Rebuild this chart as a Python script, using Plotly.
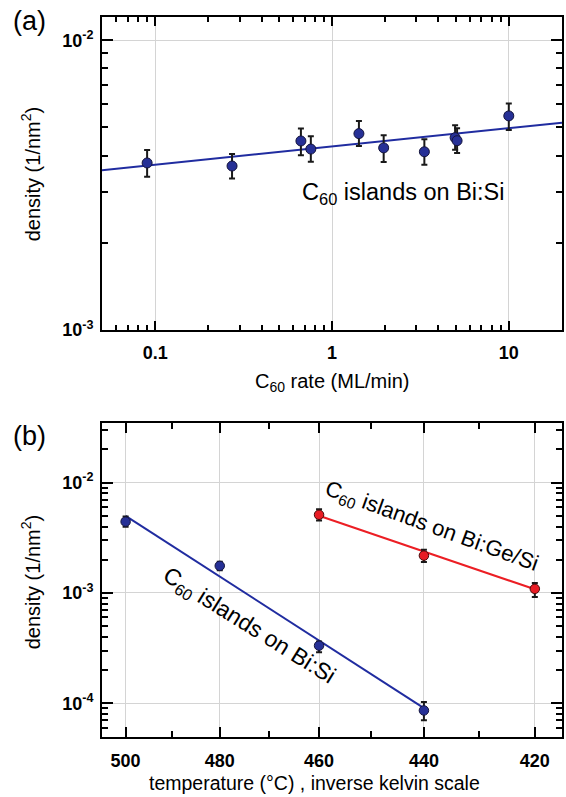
import plotly.graph_objects as go

# ---------------- data ----------------
# panel (a): density vs C60 rate
rate = [0.09, 0.272, 0.667, 0.759, 1.42, 1.96, 3.33, 4.97, 5.1, 10.0]
dens_a = [0.00377, 0.00368, 0.00449, 0.00421, 0.00476, 0.00425, 0.00412, 0.00461, 0.00450, 0.00548]
err_a_up = [0.00041, 0.00037, 0.00047, 0.00045, 0.00050, 0.00045, 0.00043, 0.00048, 0.00047, 0.00057]
err_a_dn = [0.00039, 0.00035, 0.00048, 0.00040, 0.00045, 0.00045, 0.00040, 0.00042, 0.00042, 0.00058]
fit_a_x = [0.05, 20.0]
fit_a_y = [0.00356, 0.00519]

# panel (b): density vs temperature (inverse kelvin scale)
temp_bisi = [500, 480, 460, 440]
dens_bisi = [0.00443, 0.00176, 0.000333, 0.0000862]
err_bisi_up = [0.00050, 0.00016, 0.000031, 0.0000164]
err_bisi_dn = [0.00044, 0.00015, 0.000043, 0.0000159]
fit_bisi_T = [500, 440]
fit_bisi_y = [0.0050, 0.0000905]

temp_bige = [460, 440, 420]
dens_bige = [0.00511, 0.00218, 0.00109]
err_bige_up = [0.00063, 0.00028, 0.00014]
err_bige_dn = [0.00057, 0.00027, 0.00017]
fit_bige_T = [460, 420]
fit_bige_y = [0.0050, 0.00108]

temp_major = [500, 480, 460, 440, 420]
temp_minor = [490, 470, 450, 430]
rate_ticks = [0.1, 1, 10]
rate_ticktext = ["0.1", "1", "10"]


def inv_k(t):
    return 1000.0 / (t + 273.15)


# ---------------- style ----------------
FONT = "Arial, Liberation Sans, Helvetica, sans-serif"
BLUE_M = "rgb(38,48,150)"
BLUE_L = "rgb(32,44,160)"
RED_M = "rgb(232,28,36)"
RED_L = "rgb(236,30,36)"

fig = go.Figure()


def err(up, dn):
    return dict(type="data", symmetric=False, array=up, arrayminus=dn,
                color="rgb(25,25,25)", thickness=2, width=3)


# panel (a)
fig.add_trace(go.Scatter(x=fit_a_x, y=fit_a_y, mode="lines",
                         line=dict(color=BLUE_L, width=2), xaxis="x", yaxis="y",
                         showlegend=False, hoverinfo="skip"))
fig.add_trace(go.Scatter(x=rate, y=dens_a, mode="markers",
                         marker=dict(size=10, color=BLUE_M, line=dict(color="rgb(20,20,60)", width=1)),
                         error_y=err(err_a_up, err_a_dn), xaxis="x", yaxis="y", showlegend=False))

# panel (b)
fig.add_trace(go.Scatter(x=[inv_k(t) for t in fit_bisi_T], y=fit_bisi_y, mode="lines",
                         line=dict(color=BLUE_L, width=2), xaxis="x2", yaxis="y2",
                         showlegend=False, hoverinfo="skip"))
fig.add_trace(go.Scatter(x=[inv_k(t) for t in fit_bige_T], y=fit_bige_y, mode="lines",
                         line=dict(color=RED_L, width=2), xaxis="x2", yaxis="y2",
                         showlegend=False, hoverinfo="skip"))
fig.add_trace(go.Scatter(x=[inv_k(t) for t in temp_bisi], y=dens_bisi, mode="markers",
                         marker=dict(size=9.5, color=BLUE_M, line=dict(color="rgb(20,20,60)", width=1)),
                         error_y=err(err_bisi_up, err_bisi_dn), xaxis="x2", yaxis="y2", showlegend=False))
fig.add_trace(go.Scatter(x=[inv_k(t) for t in temp_bige], y=dens_bige, mode="markers",
                         marker=dict(size=9.5, color=RED_M, line=dict(color="rgb(70,10,10)", width=1)),
                         error_y=err(err_bige_up, err_bige_dn), xaxis="x2", yaxis="y2", showlegend=False))

# geometry (pixels)
W, H = 566, 797
L, R, T, B = 102, 2, 17, 60
PW, PH = W - L - R, H - T - B
a_top, a_bot = 17, 330
b_top, b_bot = 423, 737


def py(p):
    return (H - B - p) / PH


def px(p):
    return (p - L) / PW


TICKFONT = dict(family=FONT, size=18, color="black")
GRID = "rgb(212,212,212)"

common = dict(showline=True, linecolor="black", linewidth=2, mirror="allticks",
              ticks="inside", tickcolor="black", tickwidth=2, showgrid=True,
              gridcolor=GRID, gridwidth=1, zeroline=False, tickfont=TICKFONT)

log_minor = lambda decs: [m * 10.0 ** d for d in decs for m in range(2, 10)]
rate_minor = [m * 10.0 ** d for d in (-2, -1, 0, 1) for m in range(2, 10)]

fig.update_layout(
    width=W, height=H,
    margin=dict(l=L, r=R, t=T, b=B),
    paper_bgcolor="white", plot_bgcolor="white",
    font=dict(family=FONT, color="black"),
    xaxis=dict(type="log", range=[-1.301, 1.301], domain=[0, 1], anchor="y",
               tickmode="array", tickvals=rate_ticks,
               ticktext=["<b>%s</b>" % t for t in rate_ticktext],
               ticklen=9, ticklabelstandoff=5,
               minor=dict(tickmode="array", tickvals=rate_minor, ticks="inside",
                          ticklen=5, tickwidth=1.5, tickcolor="black", showgrid=False),
               **common),
    yaxis=dict(type="log", range=[-3, -1.92], domain=[py(a_bot), py(a_top)], anchor="x",
               tickmode="array", tickvals=[1e-3, 1e-2],
               ticktext=["<b>10<sup>-3</sup></b>", "<b>10<sup>-2</sup></b>"],
               ticklen=11, ticklabelstandoff=3,
               minor=dict(tickmode="array", tickvals=log_minor([-3, -2]), ticks="inside",
                          ticklen=6, tickwidth=1.5, tickcolor="black", showgrid=False),
               **common),
    xaxis2=dict(type="linear", range=[1.2848, 1.4526], domain=[0, 1], anchor="y2",
                tickmode="array", tickvals=[inv_k(t) for t in temp_major],
                ticktext=["<b>%d</b>" % t for t in temp_major],
                ticklen=10, ticklabelstandoff=6,
                minor=dict(tickmode="array", tickvals=[inv_k(t) for t in temp_minor], ticks="inside",
                           ticklen=6, tickwidth=1.5, tickcolor="black", showgrid=False),
                **common),
    yaxis2=dict(type="log", range=[-4.305, -1.46], domain=[0, py(b_top)], anchor="x2",
                tickmode="array", tickvals=[1e-4, 1e-3, 1e-2],
                ticktext=["<b>10<sup>-4</sup></b>", "<b>10<sup>-3</sup></b>", "<b>10<sup>-2</sup></b>"],
                ticklen=11, ticklabelstandoff=3,
                minor=dict(tickmode="array", tickvals=log_minor([-5, -4, -3, -2]), ticks="inside",
                           ticklen=6, tickwidth=1.5, tickcolor="black", showgrid=False),
                **common),
)

ann = []


def add(text, x, y, size, angle=0, **kw):
    ann.append(dict(text=text, x=px(x), y=py(y), xref="paper", yref="paper",
                    showarrow=False, textangle=angle, xanchor="center", yanchor="middle",
                    font=dict(family=FONT, size=size, color="black"), **kw))


add("(a)", 29, 21, 27)
add("(b)", 29, 436, 27)
add("density (1/nm<sup>2</sup>)", 30, 174, 20, angle=-90)
add("density (1/nm<sup>2</sup>)", 30, 582, 20, angle=-90)
add("C<sub>60</sub> rate (ML/min)", 334, 382, 20)
add("temperature (°C) , inverse kelvin scale", 315, 783, 19.5)
add("C<sub>60</sub> islands on Bi:Si", 404, 193, 23.5)
add("C<sub>60</sub> islands on Bi:Ge/Si", 433, 527, 22, angle=20)
add("C<sub>60</sub> islands on Bi:Si", 250, 626, 23, angle=32)

fig.update_layout(annotations=ann)
fig.write_html("out.html", config={"displayModeBar": False},
               post_script="document.body.style.margin='0';document.body.style.overflow='hidden';")
